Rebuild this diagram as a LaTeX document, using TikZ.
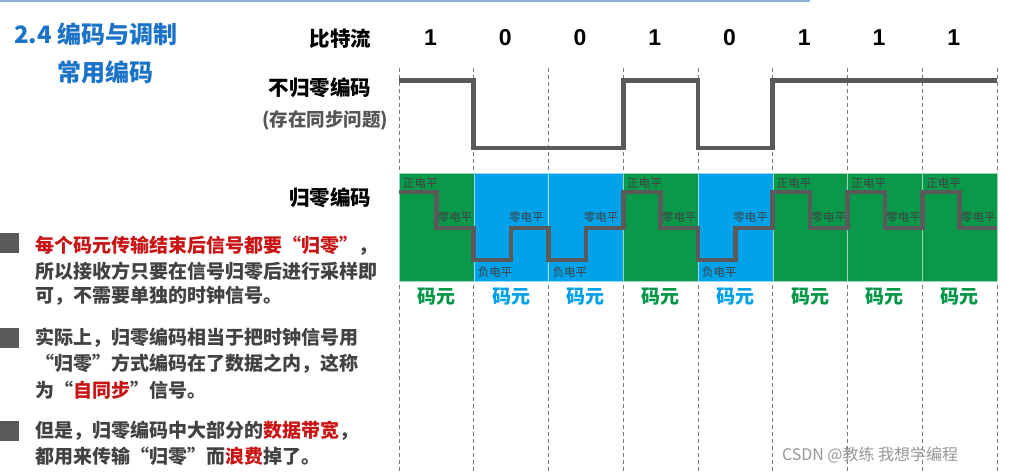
\documentclass[tikz,border=0pt]{standalone}
\usepackage{fontspec}
\setmainfont{Noto Sans CJK SC}
\newfontfamily\arialf{Liberation Sans}
\definecolor{titleblue}{RGB}{26,115,200}
\definecolor{txtgray}{RGB}{66,66,66}
\definecolor{subgray}{RGB}{85,85,85}
\definecolor{wavegray}{RGB}{90,90,90}
\definecolor{gridgray}{RGB}{120,120,120}
\definecolor{boxgreen}{RGB}{10,152,74}
\definecolor{boxblue}{RGB}{0,162,234}
\definecolor{mygreen}{RGB}{0,150,70}
\definecolor{myblue}{RGB}{0,160,232}
\definecolor{myred}{RGB}{200,20,20}
\definecolor{lvlgray}{RGB}{65,65,65}
\definecolor{topblue}{RGB}{140,175,220}
\definecolor{wmgray}{RGB}{150,150,150}
\begin{document}
\begin{tikzpicture}[x=1pt,y=-1pt,
  every node/.style={inner sep=0pt,outer sep=0pt},
  title/.style={font=\fontsize{24}{26}\selectfont\bfseries,text=titleblue},
  lbl/.style={font=\fontsize{20.5}{22}\selectfont\bfseries,text=black},
  sub/.style={font=\fontsize{18.5}{20}\selectfont\bfseries,text=subgray},
  bit/.style={font=\arialf\fontsize{23}{25}\selectfont\bfseries,text=black},
  grid/.style={draw=gridgray,line width=0.7pt,dash pattern=on 4pt off 3pt},
  wave/.style={draw=wavegray,line width=4.6pt,line join=miter},
  cell1/.style={fill=boxgreen,draw=white!60!boxgreen,line width=0.5pt,minimum width=74.75pt,minimum height=108pt,anchor=north west},
  cell0/.style={fill=boxblue,draw=white!60!boxblue,line width=0.5pt,minimum width=74.75pt,minimum height=108pt,anchor=north west},
  ma1/.style={font=\fontsize{19}{21}\selectfont\bfseries,text=mygreen},
  ma0/.style={font=\fontsize{19}{21}\selectfont\bfseries,text=myblue},
  lvl/.style={font=\fontsize{11.5}{12}\selectfont,text=lvlgray},
  sq/.style={fill=wavegray,minimum width=19pt,minimum height=20pt},
  para/.style={font=\fontsize{19}{21}\selectfont\bfseries,text=txtgray,anchor=west},
  wm/.style={font=\fontsize{16}{18}\selectfont,text=wmgray,anchor=west}
]
\useasboundingbox (0,0) rectangle (1014,473);
\coordinate (tl) at (0,1);
\coordinate (tr) at (810,1);
\draw[topblue,line width=1.5pt] (tl) -- (tr);

% titles
\node[title,anchor=west] (t1) at (14,34) {2.4 编码与调制};
\node[title,anchor=west] (t2) at (57,72) {常用编码};

% row labels
\node[lbl,anchor=east] (bs) at (371,39) {比特流};
\node[lbl,anchor=east] (nrz) at (371,88) {不归零编码};
\node[sub,anchor=east] (nrzsub) at (388,120) {(存在同步问题)};
\node[lbl,anchor=east] (rz) at (371,198) {归零编码};

% bits
\foreach \b [count=\i from 0] in {1,0,0,1,0,1,1,1}
  \node[bit] (b\i) at ({399+74.75*\i+31.5},38) {\b};

% grid lines
\foreach \i in {0,...,8}{
  \coordinate (gt\i) at ({399+74.75*\i},68);
  \coordinate (gb\i) at ({399+74.75*\i},473);
  \draw[grid] (gt\i) -- (gb\i);
}

% NRZ waveform
\draw[wave] (399,80.5) \foreach \b [count=\i from 0] in {1,0,0,1,0,1,1,1}
  { -- ({399+74.75*\i},{148-67.5*\b}) -- ({399+74.75*(\i+1)},{148-67.5*\b}) };

% RZ boxes and labels
\foreach \b [count=\i from 0] in {1,0,0,1,0,1,1,1}{
  \node[cell\b] (c\i) at ({399+74.75*\i},173) {};
  \node[ma\b] (m\i) at ({399+74.75*\i+37.4},297) {码元};
}

% RZ waveform
\draw[wave] (399,192) \foreach \b [count=\i from 0] in {1,0,0,1,0,1,1,1}
  { -- ({399+74.75*\i},{260-68*\b}) -- ({399+74.75*\i+37.4},{260-68*\b})
    -- ({399+74.75*\i+37.4},228) -- ({399+74.75*(\i+1)},228) };

% level labels
\foreach \b [count=\i from 0] in {1,0,0,1,0,1,1,1}{
  \ifnum\b=1
    \node[lvl,anchor=west] (p\i) at ({399+74.75*\i+4},183) {正电平};
    \node[lvl,anchor=east] (z\i) at ({399+74.75*(\i+1)-1.5},217) {零电平};
  \else
    \node[lvl,anchor=west] (n\i) at ({399+74.75*\i+4},272) {负电平};
    \node[lvl,anchor=east] (z\i) at ({399+74.75*(\i+1)-5},217) {零电平};
  \fi
}

% bullets
\node[sq] (s1) at (9.5,243) {};
\node[sq] (s2) at (9.5,337.5) {};
\node[sq] (s3) at (9.5,431) {};

\node[para] (l11) at (35,246) {\textcolor{myred}{每个码元传输结束后信号都要“归零”}，};
\node[para] (l12) at (35,271) {所以接收方只要在信号归零后进行采样即};
\node[para] (l13) at (35,296) {可，不需要单独的时钟信号。};

\node[para] (l21) at (35,338) {实际上，归零编码相当于把时钟信号用};
\node[para] (l22) at (35,364) {“归零”方式编码在了数据之内，这称};
\node[para] (l23) at (35,390) {为“\textcolor{myred}{自同步}”信号。};

\node[para] (l31) at (35,431) {但是，归零编码中大部分的\textcolor{myred}{数据带宽}，};
\node[para] (l32) at (35,456) {都用来传输“归零”而\textcolor{myred}{浪费}掉了。};

% watermark
\node[wm] (wmk) at (782,455) {CSDN @教练 我想学编程};
\end{tikzpicture}
\end{document}
